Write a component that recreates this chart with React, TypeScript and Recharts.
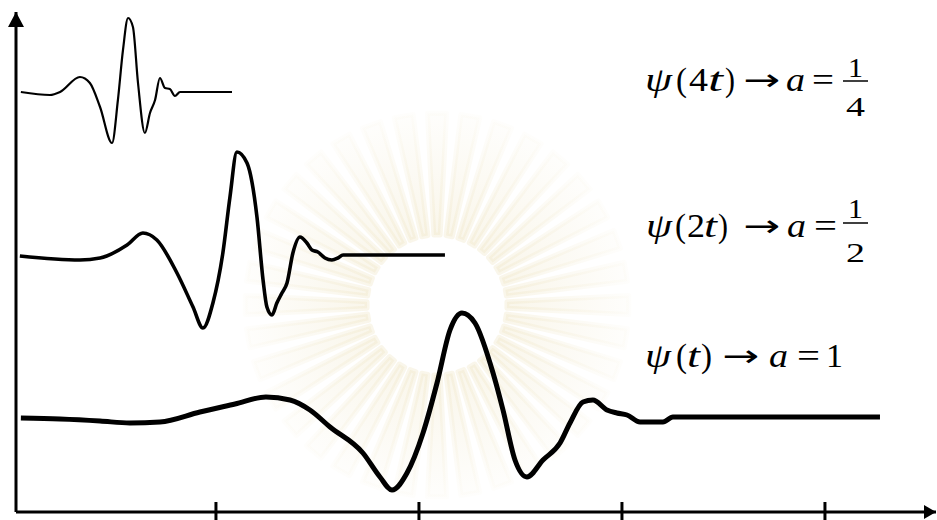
import { LineChart, Line, XAxis, YAxis, Customized } from "recharts";

// wavelet psi(4t): [t, amplitude]
const waveQuarter = [
  [0.039, 4.2], [0.182, 4.17], [0.232, 4.2], [0.33, 4.35], [0.379, 4.29],
  [0.429, 4.05], [0.488, 3.69], [0.517, 4.12], [0.542, 4.62], [0.567, 4.94],
  [0.591, 4.85], [0.616, 4.29], [0.65, 3.79], [0.675, 3.99], [0.7, 4.12],
  [0.724, 4.34], [0.749, 4.24], [0.773, 4.23], [0.798, 4.16], [0.823, 4.2],
  [1.079, 4.2],
];

// wavelet psi(2t)
const waveHalf = [
  [0.034, 2.56], [0.33, 2.52], [0.429, 2.54], [0.562, 2.67], [0.64, 2.79],
  [0.709, 2.72], [0.808, 2.39], [0.887, 2.05], [0.936, 1.84], [0.985, 2.09],
  [1.034, 2.59], [1.069, 3.15], [1.103, 3.6], [1.153, 3.49], [1.202, 2.95],
  [1.232, 2.32], [1.251, 2.05], [1.276, 1.97], [1.3, 2.09], [1.325, 2.19],
  [1.35, 2.29], [1.379, 2.59], [1.414, 2.75], [1.448, 2.69], [1.473, 2.62],
  [1.502, 2.6], [1.537, 2.54], [1.571, 2.52], [1.601, 2.54], [1.626, 2.57],
  [2.128, 2.57],
];

// wavelet psi(t)
const waveFull = [
  [0.039, 0.94], [0.232, 0.93], [0.429, 0.91], [0.576, 0.89], [0.724, 0.9],
  [0.921, 1.0], [1.094, 1.08], [1.246, 1.15], [1.365, 1.12], [1.463, 1.02],
  [1.562, 0.85], [1.724, 0.59], [1.808, 0.35], [1.867, 0.22], [1.941, 0.39],
  [2.02, 0.79], [2.089, 1.29], [2.153, 1.82], [2.212, 1.99], [2.276, 1.89],
  [2.365, 1.39], [2.414, 1.02], [2.473, 0.52], [2.532, 0.35], [2.611, 0.52],
  [2.695, 0.69], [2.744, 0.89], [2.808, 1.1], [2.857, 1.12], [2.926, 1.02],
  [2.975, 0.99], [3.025, 0.97], [3.089, 0.9], [3.202, 0.9], [3.251, 0.95],
  [4.271, 0.95],
];

const xTicks = [1, 2, 3, 4];

const toRows = (pts: number[][]) => pts.map(([t, v]) => ({ t, v }));

const SERIF = '"Liberation Serif", "Times New Roman", serif';
const ARROW_FONT = '"DejaVu Sans", sans-serif';

const AxisTick = (props: any) => {
  const { x, y } = props;
  return <line x1={x} x2={x} y1={y - 10} y2={y + 8} stroke="#000" strokeWidth={3} />;
};

const Defs = () => (
  <defs>
    <marker id="arrowX" viewBox="0 0 12 14" refX={12} refY={7} markerWidth={12} markerHeight={14}
      markerUnits="userSpaceOnUse" orient="auto">
      <path d="M0,0 L12,7 L0,14 z" fill="#000" />
    </marker>
    <marker id="arrowY" viewBox="0 0 15 16" refX={15} refY={8} markerWidth={15} markerHeight={16}
      markerUnits="userSpaceOnUse" orient="auto-start-reverse">
      <path d="M0,0 L15,8 L0,16 z" fill="#000" />
    </marker>
    <radialGradient id="rayFade" cx="437" cy="305" r="195" gradientUnits="userSpaceOnUse">
      <stop offset="35%" stopColor="#efe5c4" stopOpacity={0.35} />
      <stop offset="100%" stopColor="#efe5c4" stopOpacity={0.05} />
    </radialGradient>
  </defs>
);

// faint sunburst watermark behind the plot
const Watermark = () => {
  const cx = 437, cy = 305, r0 = 70, r1 = 192, n = 36;
  const rays = [];
  for (let i = 0; i < n; i++) {
    const a = (i / n) * Math.PI * 2;
    const w0 = 0.045, w1 = 0.05;
    const p = (r: number, da: number) => `${cx + r * Math.cos(a + da)},${cy + r * Math.sin(a + da)}`;
    rays.push(
      <path key={i} d={`M${p(r0, -w0)} L${p(r1, -w1)} L${p(r1, w1)} L${p(r0, w0)} Z`}
        fill="url(#rayFade)" strokeLinejoin="round" stroke="url(#rayFade)" strokeWidth={5} />
    );
  }
  return <g>{rays}</g>;
};

// one glyph group, stretched to the width it takes in the figure
const G = ({ x, y, w, s = 34, i = false, f, children }: any) => (
  <text x={x} y={y} fontSize={s} fontStyle={i ? "italic" : "normal"} textLength={w}
    lengthAdjust="spacingAndGlyphs" fontFamily={f}>
    {children}
  </text>
);

const Arrow = ({ x, y }: any) => (
  <G x={x} y={y} w={37} s={30} f={ARROW_FONT}>→</G>
);

const Labels = () => (
  <g fontFamily={SERIF} fill="#000">
    <G x={645} y={91} w={27} i>ψ</G>
    <G x={676} y={91} w={11}>(</G>
    <G x={689} y={91} w={19}>4</G>
    <G x={708} y={91} w={15} i>t</G>
    <G x={725} y={91} w={10}>)</G>
    <Arrow x={743} y={90} />
    <G x={786} y={91} w={19} i>a</G>
    <G x={812} y={91} w={22}>=</G>
    <G x={848} y={77} w={15} s={28}>1</G>
    <line x1={843} x2={868} y1={81} y2={81} stroke="#000" strokeWidth={1.5} />
    <G x={846} y={116} w={19} s={28}>4</G>

    <G x={646} y={237} w={26} i>ψ</G>
    <G x={675} y={237} w={11}>(</G>
    <G x={687} y={237} w={18}>2</G>
    <G x={704} y={237} w={13} i>t</G>
    <G x={718} y={237} w={10}>)</G>
    <Arrow x={743} y={236} />
    <G x={787} y={237} w={19} i>a</G>
    <G x={814} y={237} w={23}>=</G>
    <G x={848} y={218} w={15} s={28}>1</G>
    <line x1={843} x2={868} y1={223} y2={223} stroke="#000" strokeWidth={1.5} />
    <G x={846} y={262} w={19} s={28}>2</G>

    <G x={645} y={367} w={26} i>ψ</G>
    <G x={676} y={367} w={11}>(</G>
    <G x={687} y={367} w={13} i>t</G>
    <G x={701} y={367} w={11}>)</G>
    <Arrow x={722} y={366} />
    <G x={769} y={367} w={19} i>a</G>
    <G x={797} y={367} w={23}>=</G>
    <G x={826} y={367} w={17}>1</G>
  </g>
);

export default function App() {
  return (
    <div style={{ position: "absolute", left: 0, top: 0, background: "#fff" }}>
      <LineChart width={937} height={520} margin={{ top: 12, right: 1, left: 0, bottom: 0 }}>
        <Customized component={Defs} />
        <Customized component={Watermark} />
        <XAxis
          type="number"
          dataKey="t"
          domain={[0.015, 4.547]}
          ticks={xTicks}
          height={8}
          tickSize={0}
          tickMargin={0}
          tickLine={false}
          tick={AxisTick}
          axisLine={{ stroke: "#000", strokeWidth: 3, markerEnd: "url(#arrowX)" }}
        />
        <YAxis
          type="number"
          dataKey="v"
          domain={[0, 5]}
          width={16}
          tick={false}
          tickLine={false}
          axisLine={{ stroke: "#000", strokeWidth: 3, markerStart: "url(#arrowY)" }}
        />
        <Line data={toRows(waveQuarter)} dataKey="v" type="monotone" stroke="#000" strokeWidth={2.2}
          dot={false} isAnimationActive={false} />
        <Line data={toRows(waveHalf)} dataKey="v" type="monotone" stroke="#000" strokeWidth={3.6}
          dot={false} isAnimationActive={false} />
        <Line data={toRows(waveFull)} dataKey="v" type="monotone" stroke="#000" strokeWidth={5}
          dot={false} isAnimationActive={false} />
        <Customized component={Labels} />
      </LineChart>
    </div>
  );
}
